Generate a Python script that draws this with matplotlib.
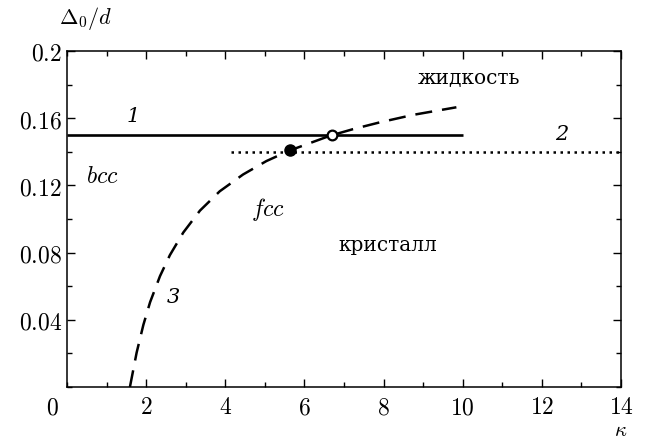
import matplotlib
matplotlib.use("Agg")
import matplotlib.pyplot as plt
from matplotlib.ticker import MultipleLocator

plt.rcParams["mathtext.fontset"] = "cm"
plt.rcParams["font.family"] = ["DejaVu Serif"]

# line 1: bcc boundary (solid)
kappa1 = [0.0, 10.0]
delta1 = [0.15, 0.15]

# line 2: fcc boundary (dotted)
kappa2 = [4.15, 14.0]
delta2 = [0.14, 0.14]

# curve 3 (dashed)
kappa3 = [1.59, 1.76, 1.93, 2.10, 2.35, 2.60, 2.94, 3.36, 3.86, 4.45, 5.04, 5.63,
          6.64, 7.23, 7.90, 8.75, 9.84]
delta3 = [0.0, 0.0205, 0.0370, 0.0505, 0.0660, 0.0785, 0.0920, 0.1050, 0.1165,
          0.1265, 0.1345, 0.1408, 0.1495, 0.1535, 0.1575, 0.1620, 0.1665]

# intersection points
pt_filled = (5.63, 0.1408)
pt_open = (6.7, 0.15)

xticks = [2, 4, 6, 8, 10, 12, 14]
yticks = [0.04, 0.08, 0.12, 0.16, 0.2]
yticklabels = ["0.04", "0.08", "0.12", "0.16", "0.2"]

fig = plt.figure(figsize=(6.56, 4.39), dpi=100)
ax = fig.add_axes([67 / 656, 1 - 388 / 439, (621 - 67) / 656, (388 - 52) / 439])

ax.plot(kappa1, delta1, color="black", lw=1.9, solid_capstyle="butt")
ax.plot(kappa2, delta2, color="black", lw=1.8, linestyle=(0, (1.0, 1.8)), dash_capstyle="butt")
ax.plot(kappa3, delta3, color="black", lw=1.8, linestyle=(0, (6.8, 4.0)))
ax.plot(*pt_filled, "o", color="black", ms=8, zorder=5)
ax.plot(*pt_open, "o", mfc="white", mec="black", mew=1.6, ms=7, zorder=5)

ax.set_xlim(0, 14)
ax.set_ylim(0, 0.2)
ax.set_xticks(xticks)
ax.set_xticklabels([f"${t}$" for t in xticks])
ax.set_yticks(yticks)
ax.set_yticklabels([f"${t}$" for t in yticklabels])
ax.xaxis.set_minor_locator(MultipleLocator(1))
ax.yaxis.set_minor_locator(MultipleLocator(0.02))
ax.tick_params(which="both", direction="in", top=True, right=True, labelsize=17, width=1.0)
ax.tick_params(which="major", length=6)
ax.tick_params(which="minor", length=3.5)
ax.tick_params(axis="x", pad=6)
for sp in ax.spines.values():
    sp.set_linewidth(1.1)

fig.text(52 / 656, 1 - 408 / 439, "$0$", fontsize=17, ha="center", va="center")
fig.text(86 / 656, 1 - 18 / 439, r"$\Delta_0/d$", fontsize=16, ha="center", va="center")
fig.text(621 / 656, 1 - 431 / 439, r"$\kappa$", fontsize=15, ha="center", va="center")

ax.text(1.67, 0.1615, "1", fontsize=15, style="italic", ha="center", va="center")
ax.text(12.5, 0.151, "2", fontsize=15, style="italic", ha="center", va="center")
ax.text(2.68, 0.054, "3", fontsize=15, style="italic", ha="center", va="center")
ax.text(0.9, 0.126, "$bcc$", fontsize=17, ha="center", va="center")
ax.text(5.08, 0.106, "$fcc$", fontsize=17, ha="center", va="center")
ax.text(10.15, 0.184, "жидкость", fontsize=14.5, ha="center", va="center")
ax.text(8.1, 0.085, "кристалл", fontsize=14.5, ha="center", va="center")

fig.savefig("out.png", dpi=100)
